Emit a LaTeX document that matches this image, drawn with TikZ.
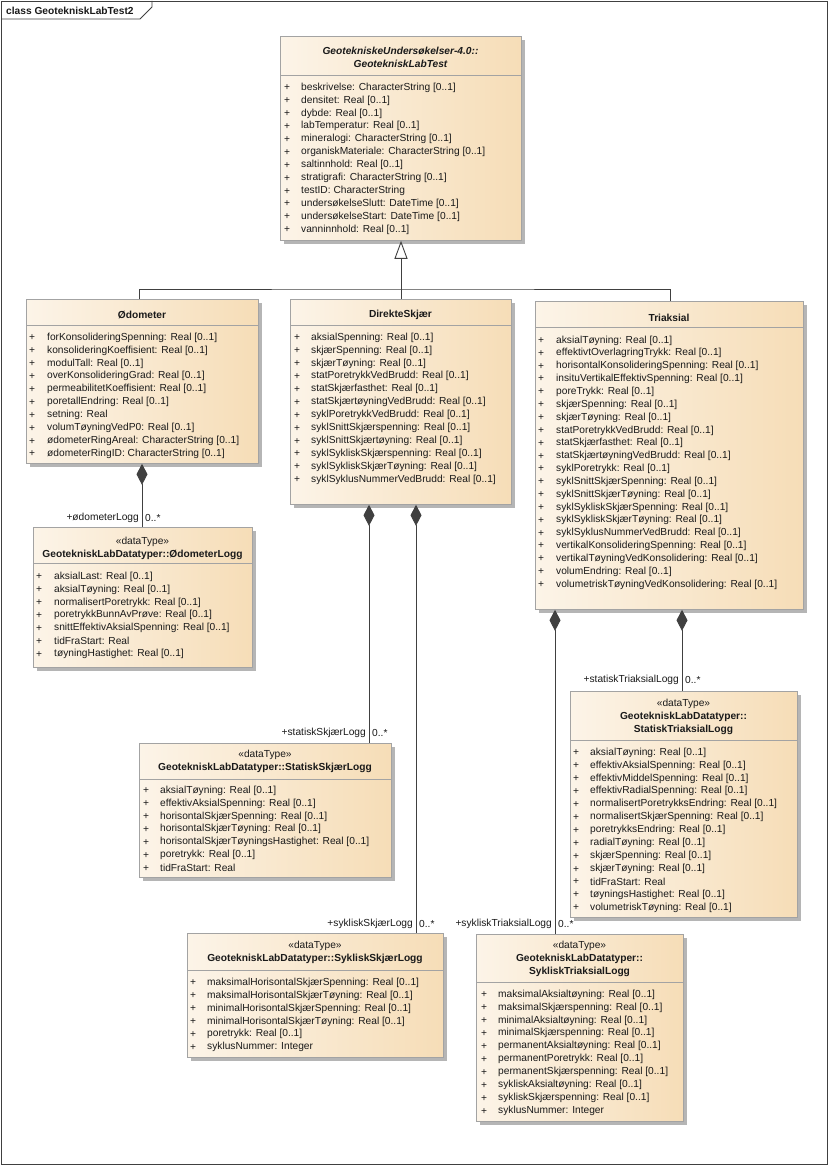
\documentclass[tikz,border=0pt]{standalone}
\usepackage{fontspec}
\setmainfont{Liberation Sans}
\usetikzlibrary{arrows.meta,shadows,calc}
\definecolor{cL}{HTML}{FCF4E8}
\definecolor{cR}{HTML}{F6DDB7}
\definecolor{bord}{HTML}{A3A3A3}
\definecolor{shad}{HTML}{B5B5B5}
\definecolor{ln}{HTML}{404040}
\definecolor{txt}{HTML}{1A1A1A}
\newcommand\stp{12.95}
\newcommand\attrlist[5]{\foreach \t [count=\i from 0] in {#5}{%
  \node[attr] (#1p\i) at ({#2},{#4+\i*\stp}) {+};
  \node[attr] (#1a\i) at ({#3},{#4+\i*\stp}) {\t};}}
\tikzset{
 x=1pt,y=-1pt,
 cls/.style={draw=bord, line width=0.8pt, left color=cL, right color=cR, anchor=north west, inner sep=0pt,
   drop shadow={shadow xshift=3.5pt, shadow yshift=-3.5pt, fill=shad, opacity=1}},
 sepline/.style={draw=bord, line width=0.8pt},
 attr/.style={anchor=west, inner sep=0pt, yshift=-1.5pt, font=\fontsize{10.2}{12}\selectfont, text=txt},
 ttl/.style={inner sep=0pt, yshift=-1.5pt, font=\fontsize{10.2}{13}\selectfont\bfseries, align=center, text=txt},
 stereo/.style={inner sep=0pt, yshift=-1pt, font=\fontsize{10.2}{13}\selectfont, align=center, text=txt},
 lbl/.style={inner sep=0pt, yshift=-1pt, font=\fontsize{10.2}{12}\selectfont, text=txt},
 gen/.style={draw=ln, line width=0.9pt, -{Triangle[length=18pt,width=13pt,fill=white]}},
 comp/.style={draw=ln, line width=0.9pt, {Diamond[length=21pt,width=11pt,fill=ln]}-},
 conn/.style={draw=ln, line width=0.9pt},
}
\begin{document}
\begin{tikzpicture}
\useasboundingbox (0,0) rectangle (829,1166);
\fill[white] (0,0) rectangle (829,1166);
% frame
\draw[ln, line width=0.8pt] (1,1) rectangle (827,1164);
\draw[ln, line width=0.8pt] (1,19) -- (140,19) -- (152,7) -- (152,1);
\node[lbl, anchor=west, font=\fontsize{10.2}{12}\selectfont\bfseries] (frametitle) at (6,10) {class GeotekniskLabTest2};

% ---------- GeotekniskLabTest
\node[cls, minimum width=241pt, minimum height=204pt] (geo) at (280,36) {};
\draw[sepline] (280,75) -- (521,75);
\node[ttl, font=\fontsize{10.2}{13}\selectfont\bfseries\itshape] (geot) at (400.5,55.5) {GeotekniskeUndersøkelser-4.0::\\GeotekniskLabTest};
\attrlist{geo}{284}{301}{86}{beskrivelse: CharacterString [0..1],densitet: Real [0..1],dybde: Real [0..1],labTemperatur: Real [0..1],mineralogi: CharacterString [0..1],organiskMateriale: CharacterString [0..1],saltinnhold: Real [0..1],stratigrafi: CharacterString [0..1],testID: CharacterString,undersøkelseSlutt: DateTime [0..1],undersøkelseStart: DateTime [0..1],vanninnhold: Real [0..1]}

% ---------- Ødometer
\node[cls, minimum width=232pt, minimum height=164pt] (odo) at (26,299) {};
\draw[sepline] (26,325) -- (258,325);
\node[ttl] (odot) at (142,313) {Ødometer};
\attrlist{odo}{29}{47}{336}{forKonsolideringSpenning: Real [0..1],konsolideringKoeffisient: Real [0..1],modulTall: Real [0..1],overKonsolideringGrad: Real [0..1],permeabilitetKoeffisient: Real [0..1],poretallEndring: Real [0..1],setning: Real,volumTøyningVedP0: Real [0..1],ødometerRingAreal: CharacterString [0..1],ødometerRingID: CharacterString [0..1]}

% ---------- DirekteSkjær
\node[cls, minimum width=221pt, minimum height=205pt] (dir) at (290,299) {};
\draw[sepline] (290,325) -- (511,325);
\node[ttl] (dirt) at (400.5,313) {DirekteSkjær};
\attrlist{dir}{294}{311}{336}{aksialSpenning: Real [0..1],skjærSpenning: Real [0..1],skjærTøyning: Real [0..1],statPoretrykkVedBrudd: Real [0..1],statSkjærfasthet: Real [0..1],statSkjærtøyningVedBrudd: Real [0..1],syklPoretrykkVedBrudd: Real [0..1],syklSnittSkjærspenning: Real [0..1],syklSnittSkjærtøyning: Real [0..1],syklSykliskSkjærspenning: Real [0..1],syklSykliskSkjærTøyning: Real [0..1],syklSyklusNummerVedBrudd: Real [0..1]}

% ---------- Triaksial
\node[cls, minimum width=268pt, minimum height=308pt] (tri) at (535,301) {};
\draw[sepline] (535,327) -- (803,327);
\node[ttl] (trit) at (669,316) {Triaksial};
\renewcommand\stp{12.84}
\attrlist{tri}{538}{556}{339}{aksialTøyning: Real [0..1],effektivtOverlagringTrykk: Real [0..1],horisontalKonsolideringSpenning: Real [0..1],insituVertikalEffektivSpenning: Real [0..1],poreTrykk: Real [0..1],skjærSpenning: Real [0..1],skjærTøyning: Real [0..1],statPoretrykkVedBrudd: Real [0..1],statSkjærfasthet: Real [0..1],statSkjærtøyningVedBrudd: Real [0..1],syklPoretrykk: Real [0..1],syklSnittSkjærSpenning: Real [0..1],syklSnittSkjærTøyning: Real [0..1],syklSykliskSkjærSpenning: Real [0..1],syklSykliskSkjærTøyning: Real [0..1],syklSyklusNummerVedBrudd: Real [0..1],vertikalKonsolideringSpenning: Real [0..1],vertikalTøyningVedKonsolidering: Real [0..1],volumEndring: Real [0..1],volumetriskTøyningVedKonsolidering: Real [0..1]}
\renewcommand\stp{12.95}

% ---------- ØdometerLogg
\node[cls, minimum width=219pt, minimum height=140pt] (olog) at (33,527) {};
\draw[sepline] (33,563) -- (252,563);
\node[stereo] (ologt) at (142.5,547) {«dataType»\\\textbf{GeotekniskLabDatatyper::ØdometerLogg}};
\attrlist{olog}{36}{54}{575}{aksialLast: Real [0..1],aksialTøyning: Real [0..1],normalisertPoretrykk: Real [0..1],poretrykkBunnAvPrøve: Real [0..1],snittEffektivAksialSpenning: Real [0..1],tidFraStart: Real,tøyningHastighet: Real [0..1]}

% ---------- StatiskSkjærLogg
\node[cls, minimum width=252pt, minimum height=134pt] (sslog) at (139,743) {};
\draw[sepline] (139,779) -- (391,779);
\node[stereo] (sslogt) at (265,760.5) {«dataType»\\\textbf{GeotekniskLabDatatyper::StatiskSkjærLogg}};
\attrlist{ssl}{143}{160}{789}{aksialTøyning: Real [0..1],effektivAksialSpenning: Real [0..1],horisontalSkjærSpenning: Real [0..1],horisontalSkjærTøyning: Real [0..1],horisontalSkjærTøyningsHastighet: Real [0..1],poretrykk: Real [0..1],tidFraStart: Real}

% ---------- SykliskSkjærLogg
\node[cls, minimum width=256pt, minimum height=124pt] (yslog) at (187,933) {};
\draw[sepline] (187,970) -- (443,970);
\node[stereo] (yslogt) at (315,951.5) {«dataType»\\\textbf{GeotekniskLabDatatyper::SykliskSkjærLogg}};
\attrlist{ysl}{190}{207}{981}{maksimalHorisontalSkjærSpenning: Real [0..1],maksimalHorisontalSkjærTøyning: Real [0..1],minimalHorisontalSkjærSpenning: Real [0..1],minimalHorisontalSkjærTøyning: Real [0..1],poretrykk: Real [0..1],syklusNummer: Integer}

% ---------- StatiskTriaksialLogg
\node[cls, minimum width=227pt, minimum height=226pt] (stlog) at (570,691) {};
\draw[sepline] (570,740) -- (797,740);
\node[stereo] (stlogt) at (683.5,716) {«dataType»\\\textbf{GeotekniskLabDatatyper::}\\\textbf{StatiskTriaksialLogg}};
\attrlist{stl}{573}{590}{751}{aksialTøyning: Real [0..1],effektivAksialSpenning: Real [0..1],effektivMiddelSpenning: Real [0..1],effektivRadialSpenning: Real [0..1],normalisertPoretrykksEndring: Real [0..1],normalisertSkjærSpenning: Real [0..1],poretrykksEndring: Real [0..1],radialTøyning: Real [0..1],skjærSpenning: Real [0..1],skjærTøyning: Real [0..1],tidFraStart: Real,tøyningsHastighet: Real [0..1],volumetriskTøyning: Real [0..1]}

% ---------- SykliskTriaksialLogg
\node[cls, minimum width=207pt, minimum height=187pt] (ytlog) at (476,934) {};
\draw[sepline] (476,982) -- (683,982);
\node[stereo] (ytlogt) at (579.5,958) {«dataType»\\\textbf{GeotekniskLabDatatyper::}\\\textbf{SykliskTriaksialLogg}};
\attrlist{ytl}{481}{498}{993}{maksimalAksialtøyning: Real [0..1],maksimalSkjærspenning: Real [0..1],minimalAksialtøyning: Real [0..1],minimalSkjærspenning: Real [0..1],permanentAksialtøyning: Real [0..1],permanentPoretrykk: Real [0..1],permanentSkjærspenning: Real [0..1],sykliskAksialtøyning: Real [0..1],sykliskSkjærspenning: Real [0..1],syklusNummer: Integer}

% ---------- generalization
\coordinate (gjoin) at (401,289);
\coordinate (xo) at (139,0);
\coordinate (xt) at (670,0);
\coordinate (xd) at (401,0);
\draw[conn] (odo.north -| xo) |- (gjoin) -| (tri.north -| xt);
\draw[gen] (dir.north -| xd) -- (geo.south -| xd);

% ---------- compositions
\coordinate (c1) at (142,0);
\coordinate (c2) at (369,0);
\coordinate (c3) at (416,0);
\coordinate (c4) at (555,0);
\coordinate (c5) at (682,0);
\draw[comp] (odo.south -| c1) -- (olog.north -| c1);
\draw[comp] (dir.south -| c2) -- (sslog.north -| c2);
\draw[comp] (dir.south -| c3) -- (yslog.north -| c3);
\draw[comp] (tri.south -| c4) -- (ytlog.north -| c4);
\draw[comp] (tri.south -| c5) -- (stlog.north -| c5);

% ---------- role labels
\node[lbl, anchor=east] (r1) at (139,517) {+ødometerLogg};
\node[lbl, anchor=west] (m1) at (145,517) {0..*};
\node[lbl, anchor=east] (r2) at (366,732) {+statiskSkjærLogg};
\node[lbl, anchor=west] (m2) at (372,732) {0..*};
\node[lbl, anchor=east] (r3) at (413,923) {+sykliskSkjærLogg};
\node[lbl, anchor=west] (m3) at (419,923) {0..*};
\node[lbl, anchor=east] (r4) at (552,923) {+sykliskTriaksialLogg};
\node[lbl, anchor=west] (m4) at (558,923) {0..*};
\node[lbl, anchor=east] (r5) at (679,679) {+statiskTriaksialLogg};
\node[lbl, anchor=west] (m5) at (685,679) {0..*};
\end{tikzpicture}
\end{document}
